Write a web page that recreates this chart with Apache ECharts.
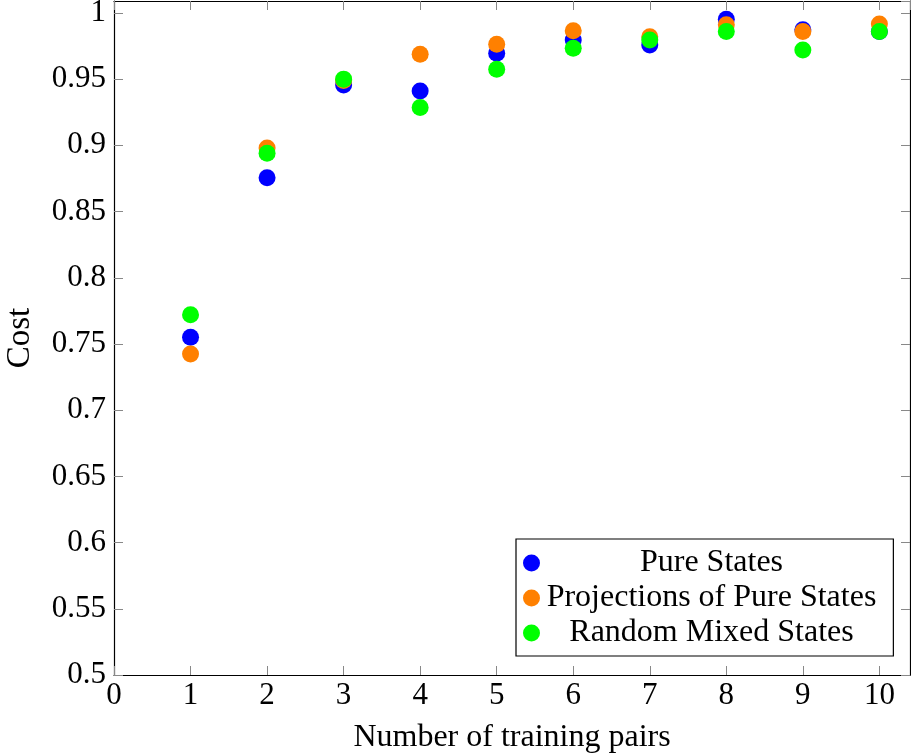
<!DOCTYPE html>
<html><head><meta charset="utf-8">
<script src="https://cdn.jsdelivr.net/npm/echarts@6/dist/echarts.min.js"></script>
<style>html,body{margin:0;padding:0;background:#fff}#c{width:911px;height:755px}</style>
</head><body><div id="c"></div>
<script>
const xValues = [1,2,3,4,5,6,7,8,9,10];
const pureStates = [0.755,0.8756,0.9456,0.941,0.9696,0.9796,0.9758,0.9952,0.9872,0.986];
const projections = [0.7425,0.898,0.949,0.9688,0.9763,0.9866,0.982,0.991,0.9859,0.9917];
const randomMixed = [0.772,0.894,0.950,0.9285,0.9575,0.9733,0.9796,0.9859,0.972,0.9859];
const seriesNames = ['Pure States','Projections of Pure States','Random Mixed States'];
const colors = ['#0000ff','#ff8000','#00ff00'];
const FONT = "'Liberation Serif', 'Times New Roman', serif";
const FS = 31;
const pairs = v => xValues.map((x,i)=>[x,v[i]]);
const tickStyle = {show:true, inside:true, length:9, lineStyle:{color:'#888', width:1}};
const chart = echarts.init(document.getElementById('c'));
chart.setOption({
  animation:false,
  textStyle:{fontFamily:FONT},
  grid:{left:114, right:1, top:1, bottom:80, containLabel:false, outerBoundsMode:'none'},
  xAxis:[{
    type:'value', min:0, max:10.4, interval:1, position:'bottom',
    axisLine:{show:true, onZero:false, lineStyle:{color:'#000', width:1.2}},
    axisTick:tickStyle, splitLine:{show:false},
    axisLabel:{show:true, color:'#000', fontFamily:FONT, fontSize:FS, margin:5, showMaxLabel:false,
      formatter:v=> (v<=10 ? String(v) : '')},
    name:'Number of training pairs', nameLocation:'middle', nameGap:47,
    nameTextStyle:{color:'#000', fontFamily:FONT, fontSize:32}
  },{
    type:'value', min:0, max:10.4, interval:1, position:'top',
    axisLine:{show:true, onZero:false, lineStyle:{color:'#000', width:1.2}},
    axisTick:tickStyle, splitLine:{show:false}, axisLabel:{show:false}
  }],
  yAxis:[{
    type:'value', min:0.5, max:1.009, interval:0.05, position:'left',
    axisLine:{show:true, onZero:false, lineStyle:{color:'#000', width:1.2}},
    axisTick:tickStyle, splitLine:{show:false},
    axisLabel:{show:true, color:'#000', fontFamily:FONT, fontSize:FS, margin:8, showMaxLabel:false,
      formatter:v=> (v>1.0001 ? '' : String(+v.toFixed(2)))},
    name:'Cost', nameLocation:'middle', nameGap:77, nameRotate:90,
    nameTextStyle:{color:'#000', fontFamily:FONT, fontSize:33}
  },{
    type:'value', min:0.5, max:1.009, interval:0.05, position:'right',
    axisLine:{show:true, onZero:false, lineStyle:{color:'#000', width:1.2}},
    axisTick:tickStyle, splitLine:{show:false}, axisLabel:{show:false}
  }],
  legend:{
    orient:'vertical', left:516, top:539,
    backgroundColor:'#fff', borderColor:'#000', borderWidth:1.2,
    padding:[8,17,7,7], itemGap:3, itemWidth:17, itemHeight:17,
    icon:'circle',
    data:seriesNames,
    formatter:'{a|{name}}',
    textStyle:{color:'#000', fontFamily:FONT, fontSize:32,
      rich:{a:{width:333, align:'center', fontFamily:FONT, fontSize:32, color:'#000'}}}
  },
  series:[pureStates, projections, randomMixed].map((v,i)=>({
    name:seriesNames[i], type:'scatter', data:pairs(v), symbol:'circle', symbolSize:17,
    itemStyle:{color:colors[i], opacity:1}, z:2+i, emphasis:{disabled:true}
  }))
});
</script></body></html>
